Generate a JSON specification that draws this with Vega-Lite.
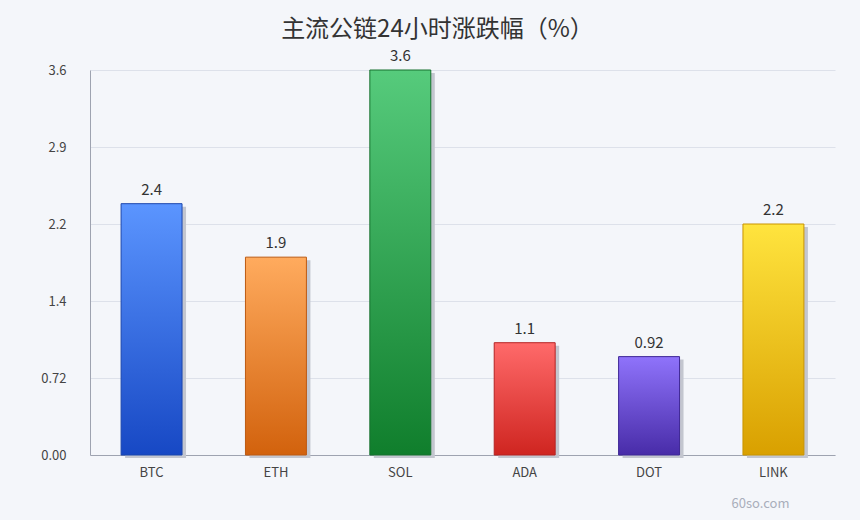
{
  "$schema": "https://vega.github.io/schema/vega-lite/v6.json",
  "width": 745,
  "height": 385,
  "autosize": "none",
  "padding": {"left": 90, "top": 70, "right": 25, "bottom": 65},
  "background": "#f4f6fa",
  "title": {
    "text": "主流公链24小时涨跌幅（%）",
    "font": "Noto Sans CJK SC",
    "fontSize": 24,
    "fontWeight": "normal",
    "color": "#333333",
    "anchor": "middle",
    "dx": -25,
    "offset": 7
  },
  "config": {
    "font": "Noto Sans CJK SC",
    "view": {"stroke": null}
  },
  "data": {
    "values": [
      {"coin": "BTC", "change": 2.35},
      {"coin": "ETH", "change": 1.85},
      {"coin": "SOL", "change": 3.6},
      {"coin": "ADA", "change": 1.05},
      {"coin": "DOT", "change": 0.92},
      {"coin": "LINK", "change": 2.16}
    ]
  },
  "encoding": {
    "x": {
      "field": "coin",
      "type": "nominal",
      "sort": null,
      "scale": {"domain": ["BTC", "ETH", "SOL", "ADA", "DOT", "LINK"], "paddingInner": 0.51, "paddingOuter": 0.25},
      "axis": {
        "title": "60so.com",
        "titleFont": "Noto Sans CJK SC",
        "titleFontSize": 13,
        "titleFontWeight": "normal",
        "titleColor": "#a9aebb",
        "titleX": 670,
        "titleY": 48,
        "titleAlign": "center",
        "titleBaseline": "middle",
        "labelAngle": 0,
        "labelFont": "Noto Sans CJK SC",
        "labelFontSize": 13,
        "labelColor": "#444444",
        "labelPadding": 11,
        "ticks": false,
        "domainColor": "#9ea3b0",
        "domainWidth": 1,
        "grid": false
      }
    },
    "y": {
      "field": "change",
      "type": "quantitative",
      "scale": {"domain": [0, 3.6], "nice": false},
      "axis": {
        "title": null,
        "values": [0, 0.72, 1.44, 2.16, 2.88, 3.6],
        "labelExpr": "datum.value == 0 ? '0.00' : format(datum.value, '.2r')",
        "labelFont": "Noto Sans CJK SC",
        "labelFontSize": 13,
        "labelColor": "#444444",
        "labelPadding": 24,
        "ticks": false,
        "domainColor": "#9ea3b0",
        "gridColor": "#dde1ea",
        "gridWidth": 1
      }
    }
  },
  "layer": [
    {
      "mark": {"type": "bar", "color": "#c3c6cf", "xOffset": 4, "yOffset": 3}
    },
    {
      "transform": [{"filter": "datum.coin == 'BTC'"}],
      "mark": {"type": "bar", "stroke": "#1b46ad", "strokeWidth": 1,
        "color": {"gradient": "linear", "x1": 0, "y1": 0, "x2": 0, "y2": 1,
          "stops": [{"offset": 0, "color": "#5b95ff"}, {"offset": 1, "color": "#1748c4"}]}}
    },
    {
      "transform": [{"filter": "datum.coin == 'ETH'"}],
      "mark": {"type": "bar", "stroke": "#bd5a12", "strokeWidth": 1,
        "color": {"gradient": "linear", "x1": 0, "y1": 0, "x2": 0, "y2": 1,
          "stops": [{"offset": 0, "color": "#ffab5e"}, {"offset": 1, "color": "#d2620d"}]}}
    },
    {
      "transform": [{"filter": "datum.coin == 'SOL'"}],
      "mark": {"type": "bar", "stroke": "#16712e", "strokeWidth": 1,
        "color": {"gradient": "linear", "x1": 0, "y1": 0, "x2": 0, "y2": 1,
          "stops": [{"offset": 0, "color": "#56cb7c"}, {"offset": 1, "color": "#107e2c"}]}}
    },
    {
      "transform": [{"filter": "datum.coin == 'ADA'"}],
      "mark": {"type": "bar", "stroke": "#b52323", "strokeWidth": 1,
        "color": {"gradient": "linear", "x1": 0, "y1": 0, "x2": 0, "y2": 1,
          "stops": [{"offset": 0, "color": "#ff6a6a"}, {"offset": 1, "color": "#cf2520"}]}}
    },
    {
      "transform": [{"filter": "datum.coin == 'DOT'"}],
      "mark": {"type": "bar", "stroke": "#3f2896", "strokeWidth": 1,
        "color": {"gradient": "linear", "x1": 0, "y1": 0, "x2": 0, "y2": 1,
          "stops": [{"offset": 0, "color": "#8f73fb"}, {"offset": 1, "color": "#482ca8"}]}}
    },
    {
      "transform": [{"filter": "datum.coin == 'LINK'"}],
      "mark": {"type": "bar", "stroke": "#c99400", "strokeWidth": 1,
        "color": {"gradient": "linear", "x1": 0, "y1": 0, "x2": 0, "y2": 1,
          "stops": [{"offset": 0, "color": "#ffe43e"}, {"offset": 1, "color": "#d9a000"}]}}
    },
    {
      "mark": {"type": "text", "baseline": "bottom", "dy": -6, "fontSize": 15, "color": "#333333"},
      "encoding": {
        "text": {"field": "change", "type": "quantitative", "format": ".2r"}
      }
    }
  ]
}
